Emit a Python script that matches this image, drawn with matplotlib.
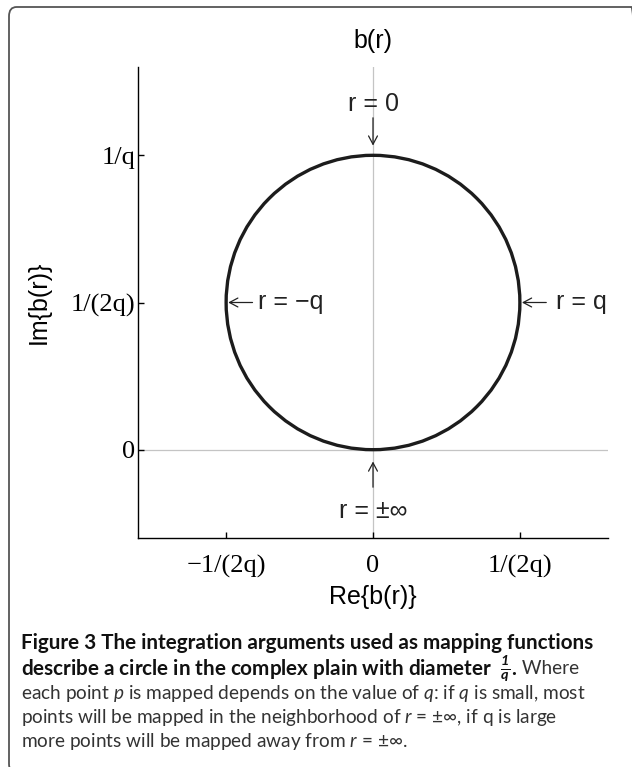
import matplotlib
matplotlib.use("Agg")
import matplotlib.pyplot as plt
from matplotlib.patches import Circle, FancyBboxPatch

# circle b(r) in the complex plane, diameter 1/q (q = 1)
q = 1.0
diameter = 1.0 / q
center = (0.0, diameter / 2)

# annotated points on the circle: (label, re, im, side)
marks = [
    ("r = 0", 0.0, diameter, "top"),
    ("r = \u2212q", -diameter / 2, diameter / 2, "left"),
    ("r = q", diameter / 2, diameter / 2, "right"),
    ("r = \u00b1\u221e", 0.0, 0.0, "bottom"),
]

xticks = [-diameter / 2, 0.0, diameter / 2]
xticklabels = ["\u22121/(2q)", "0", "1/(2q)"]
yticks = [0.0, diameter / 2, diameter]
yticklabels = ["0", "1/(2q)", "1/q"]

caption_bold_1 = "Figure 3 The integration arguments used as mapping functions"
caption_bold_2 = "describe a circle in the complex plain with diameter $\\ \\mathbf{\\frac{1}{q}}$."
caption_rest_2 = " Where"
caption_lines = [
    "each point $p$ is mapped depends on the value of $q$: if $q$ is small, most",
    "points will be mapped in the neighborhood of $r$ = \u00b1\u221e, if q is large",
    "more points will be mapped away from $r$ = \u00b1\u221e.",
]

plt.rcParams["mathtext.fontset"] = "custom"
plt.rcParams["mathtext.rm"] = "Lato"
plt.rcParams["mathtext.it"] = "Lato:italic"
plt.rcParams["mathtext.bf"] = "Lato:bold:italic"

W, H = 632, 767
fig = plt.figure(figsize=(W / 100, H / 100), dpi=100)

# rounded frame around figure + caption
frame = FancyBboxPatch((9 / W, -6 / H), 630 / W, (H - 7 + 6) / H,
                       boxstyle="round,pad=0,rounding_size=0.012",
                       transform=fig.transFigure, fill=False,
                       edgecolor="#555555", linewidth=1.3, clip_on=False)
fig.patches.append(frame)

ax = fig.add_axes([138 / W, (H - 538) / H, 470 / W, 471 / H])
ax.set_xlim(-0.8, 0.8)
ax.set_ylim(-0.3, 1.3)

ax.axhline(0, color="#c4c4c4", linewidth=0.9, zorder=0)
ax.axvline(0, color="#c4c4c4", linewidth=0.9, zorder=0)
ax.add_patch(Circle(center, diameter / 2, fill=False, edgecolor="#1c1c1c",
                    linewidth=2.4, zorder=3))

ax.spines["top"].set_visible(False)
ax.spines["right"].set_visible(False)
for side in ("left", "bottom"):
    ax.spines[side].set_linewidth(1.0)

serif = "Liberation Serif"
sans = "Liberation Sans"
ax.set_xticks(xticks)
ax.set_xticklabels(xticklabels, fontfamily=serif, fontsize=19)
ax.set_yticks(yticks)
ax.set_yticklabels(yticklabels, fontfamily=serif, fontsize=19)
ax.tick_params(axis="x", direction="in", length=4, width=1, pad=12)
ax.tick_params(axis="y", direction="in", length=4, width=1, pad=2)

ax.set_title("b(r)", fontfamily=sans, fontsize=18, pad=14)
ax.set_xlabel("Re{b(r)}", fontfamily=sans, fontsize=18)
ax.xaxis.set_label_coords(0.5, -0.1)
ax.set_ylabel("Im{b(r)}", fontfamily=sans, fontsize=18)
ax.yaxis.set_label_coords(-0.185, 0.5)

arrow = dict(arrowstyle="->,head_length=0.6,head_width=0.32", lw=0.9,
             color="#222222", mutation_scale=10, shrinkA=0)
offsets = {
    # tip gap, tail, text offset (points), ha
    "top": (7, (0, 27), (0, 37), "center"),
    "bottom": (8.5, (0, -27), (0, -44), "center"),
    "left": (1.5, (19, 0), (23, 0), "left"),
    "right": (1.5, (19, 0), (26, 0), "left"),
}
for label, re, im, side in marks:
    gap, tail, txt, ha = offsets[side]
    ax.annotate("", xy=(re, im), xytext=tail, textcoords="offset points",
                arrowprops={**arrow, "shrinkB": gap}, annotation_clip=False)
    ax.annotate(label, xy=(re, im), xytext=txt, textcoords="offset points",
                ha=ha, va="center", fontfamily=sans, fontsize=18, color="#222222")

fig.canvas.draw()
renderer = fig.canvas.get_renderer()

x0 = 21 / W
base = [649, 674, 699, 723, 747]
bold_kw = dict(fontfamily="Lato", fontweight="bold", fontsize=14.9, color="#111111")
reg_kw = dict(fontfamily="Lato", fontsize=13.7, color="#333333")
fig.text(x0, 1 - base[0] / H, caption_bold_1, va="baseline", **bold_kw)
t2 = fig.text(x0, 1 - base[1] / H, caption_bold_2, va="baseline", **bold_kw)
ext = t2.get_window_extent(renderer)
fig.text(ext.x1 / W, 1 - base[1] / H, caption_rest_2, va="baseline", **reg_kw)
for line, y in zip(caption_lines, base[2:]):
    fig.text(x0, 1 - y / H, line, va="baseline", **reg_kw)

fig.savefig("out.png", dpi=100)
